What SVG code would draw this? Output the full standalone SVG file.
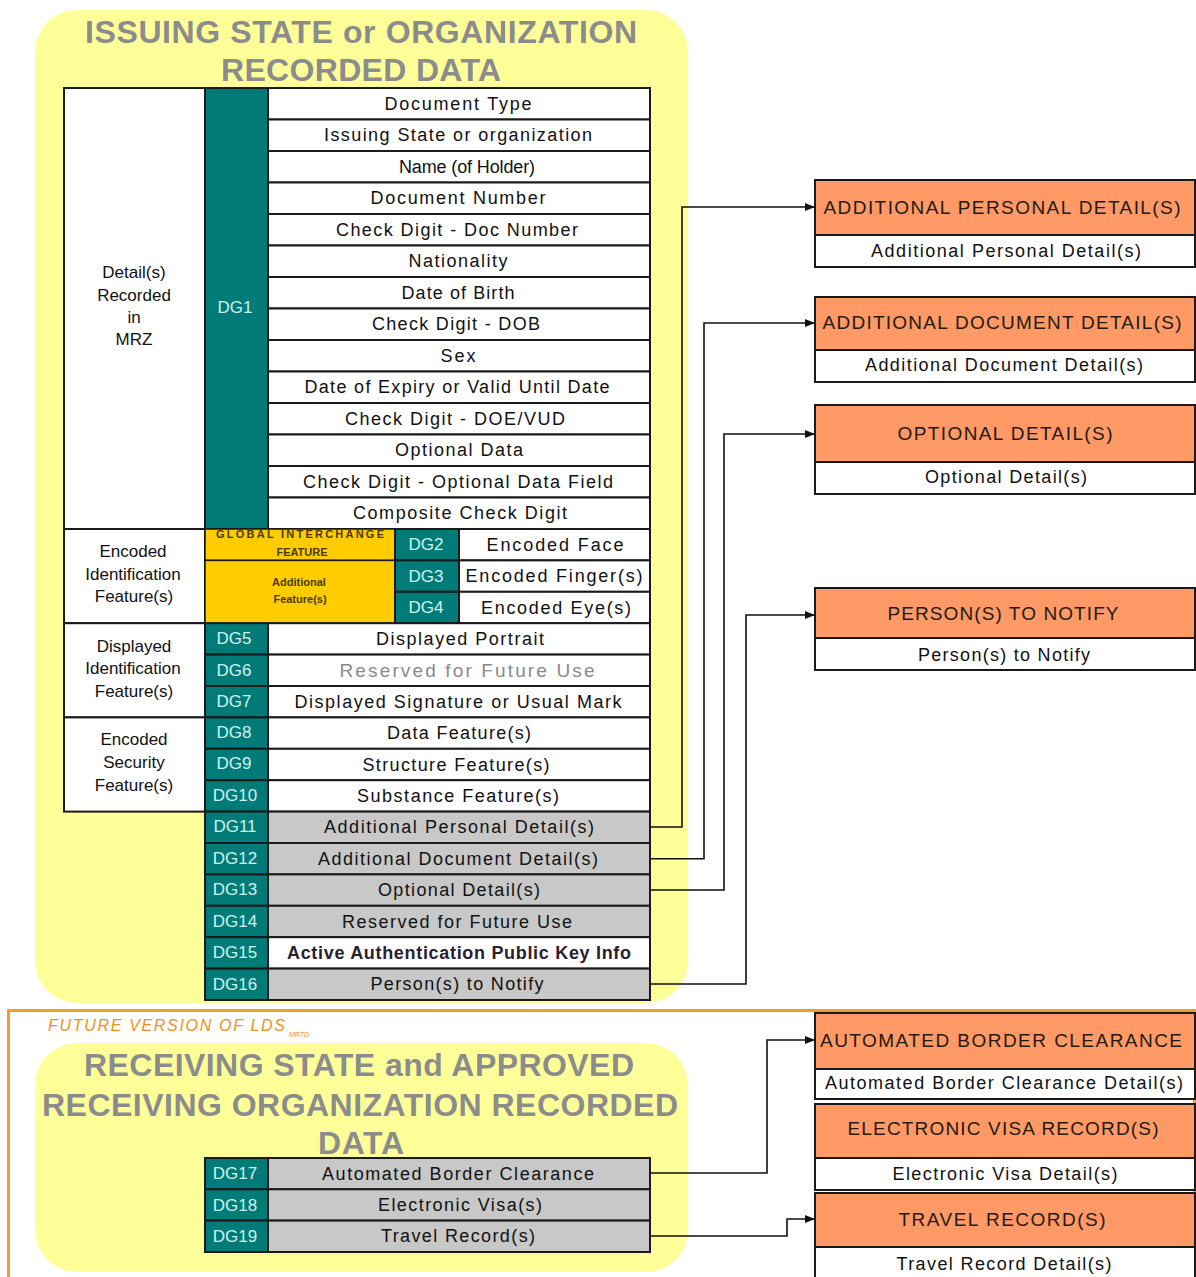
<svg xmlns="http://www.w3.org/2000/svg" width="1196" height="1277" viewBox="0 0 1196 1277">
<style>
text{font-family:"Liberation Sans",Arial,sans-serif}
.bg{fill:#FFFF99}
.w{fill:#fff;stroke:#1a1a1a;stroke-width:2}
.g{fill:#C8C8C8;stroke:#1a1a1a;stroke-width:2}
.tl{fill:#007B78;stroke:#1a1a1a;stroke-width:2}
.gd{fill:#FFCC00;stroke:#1a1a1a;stroke-width:1.5}
.or{fill:#FF9966;stroke:#1a1a1a;stroke-width:2}
.title{font-size:32px;font-weight:bold;fill:#8C8C8C;text-anchor:middle}
.t{font-size:18px;fill:#111;text-anchor:middle}
.lc{font-size:17px;fill:#111;text-anchor:middle}
.dg{font-size:17px;fill:#CFF3F0;text-anchor:middle}
.gf{font-size:11px;font-weight:bold;fill:#4a3a00;text-anchor:middle}
.hd{font-size:19px;fill:#241a14;text-anchor:middle}
.conn{fill:none;stroke:#111;stroke-width:1.6}
</style>
<defs>
<marker id="arr" markerWidth="10" markerHeight="8" refX="10" refY="4" orient="auto" markerUnits="userSpaceOnUse">
<path d="M0,0 L10,4 L0,8 Z" fill="#111"/>
</marker>
</defs>

<!-- backgrounds -->
<g id="issuing-area">
<rect class="bg" x="35" y="10" width="653" height="993" rx="42"/>
<text class="title" x="361" y="43" textLength="552">ISSUING STATE or ORGANIZATION</text>
<text class="title" x="361" y="81" textLength="280">RECORDED DATA</text>
</g>

<g id="future-frame">
<rect x="8.5" y="1010.5" width="1186" height="280" fill="none" stroke="#F0A028" stroke-width="3"/>
<text x="48" y="1031" font-size="16" font-style="italic" fill="#F09020" textLength="237">FUTURE VERSION OF LDS</text>
<text x="289" y="1037" font-size="7" font-style="italic" fill="#F09020">MRTD</text>
</g>

<g id="receiving-area">
<rect class="bg" x="35" y="1043" width="653" height="229" rx="42"/>
<text class="title" x="359" y="1076" textLength="550">RECEIVING STATE and APPROVED</text>
<text class="title" x="360" y="1116" textLength="636">RECEIVING ORGANIZATION RECORDED</text>
<text class="title" x="361" y="1154" textLength="86">DATA</text>
</g>

<!-- left category cells -->
<g id="cat-mrz">
<rect class="w" x="64" y="88" width="141" height="441"/>
<text class="lc" x="134" y="278">Detail(s)</text>
<text class="lc" x="134" y="301">Recorded</text>
<text class="lc" x="134" y="323">in</text>
<text class="lc" x="134" y="345">MRZ</text>
</g>
<g id="cat-encoded-id">
<rect class="w" x="64" y="529" width="141" height="94.2"/>
<text class="lc" x="133" y="557">Encoded</text>
<text class="lc" x="133" y="580">Identification</text>
<text class="lc" x="134" y="602">Feature(s)</text>
</g>
<g id="cat-displayed">
<rect class="w" x="64" y="623.2" width="141" height="94.2"/>
<text class="lc" x="134" y="652">Displayed</text>
<text class="lc" x="133" y="674">Identification</text>
<text class="lc" x="134" y="697">Feature(s)</text>
</g>
<g id="cat-security">
<rect class="w" x="64" y="717.4" width="141" height="94.2"/>
<text class="lc" x="134" y="745">Encoded</text>
<text class="lc" x="134" y="768">Security</text>
<text class="lc" x="134" y="791">Feature(s)</text>
</g>

<!-- DG1 -->
<g id="dg1">
<rect class="tl" x="205" y="88" width="63" height="441"/>
<text class="dg" x="235" y="313">DG1</text>
<rect class="w" x="268" y="88" width="382" height="31.5"/>
<text class="t" x="458" y="109.5" textLength="147">Document Type</text>
<rect class="w" x="268" y="119.5" width="382" height="31.5"/>
<text class="t" x="458" y="141" textLength="268">Issuing State or organization</text>
<rect class="w" x="268" y="151" width="382" height="31.5"/>
<text class="t" x="467" y="172.5" textLength="136">Name (of Holder)</text>
<rect class="w" x="268" y="182.5" width="382" height="31.5"/>
<text class="t" x="458" y="204" textLength="175">Document Number</text>
<rect class="w" x="268" y="214" width="382" height="31.5"/>
<text class="t" x="457" y="235.5" textLength="242">Check Digit - Doc Number</text>
<rect class="w" x="268" y="245.5" width="382" height="31.5"/>
<text class="t" x="458" y="267" textLength="99">Nationality</text>
<rect class="w" x="268" y="277" width="382" height="31.5"/>
<text class="t" x="458" y="298.5" textLength="113">Date of Birth</text>
<rect class="w" x="268" y="308.5" width="382" height="31.5"/>
<text class="t" x="456" y="330" textLength="168">Check Digit - DOB</text>
<rect class="w" x="268" y="340" width="382" height="31.5"/>
<text class="t" x="458" y="361.5" textLength="35">Sex</text>
<rect class="w" x="268" y="371.5" width="382" height="31.5"/>
<text class="t" x="457" y="393" textLength="305">Date of Expiry or Valid Until Date</text>
<rect class="w" x="268" y="403" width="382" height="31.5"/>
<text class="t" x="455" y="424.5" textLength="220">Check Digit - DOE/VUD</text>
<rect class="w" x="268" y="434.5" width="382" height="31.5"/>
<text class="t" x="459" y="456" textLength="128">Optional Data</text>
<rect class="w" x="268" y="466" width="382" height="31.5"/>
<text class="t" x="458" y="487.5" textLength="310">Check Digit - Optional Data Field</text>
<rect class="w" x="268" y="497.5" width="382" height="31.5"/>
<text class="t" x="460" y="519" textLength="214">Composite Check Digit</text>
</g>

<!-- gold global interchange area -->
<g id="global-interchange">
<rect class="gd" x="205" y="529" width="190" height="31.4"/>
<text class="gf" x="300" y="538" textLength="168">GLOBAL INTERCHANGE</text>
<text class="gf" x="302" y="556">FEATURE</text>
<rect class="gd" x="205" y="560.4" width="190" height="62.8"/>
<text class="gf" x="299" y="586">Additional</text>
<text class="gf" x="300" y="603">Feature(s)</text>
</g>

<g id="dg2">
<rect class="tl" x="395" y="529" width="64" height="31.4"/>
<text class="dg" x="426" y="550">DG2</text>
<rect class="w" x="459" y="529" width="191" height="31.4"/>
<text class="t" x="555" y="550.5" textLength="137">Encoded Face</text>
</g>
<g id="dg3">
<rect class="tl" x="395" y="560.4" width="64" height="31.4"/>
<text class="dg" x="426" y="581.5">DG3</text>
<rect class="w" x="459" y="560.4" width="191" height="31.4"/>
<text class="t" x="554" y="582" textLength="177">Encoded Finger(s)</text>
</g>
<g id="dg4">
<rect class="tl" x="395" y="591.8" width="64" height="31.4"/>
<text class="dg" x="426" y="613">DG4</text>
<rect class="w" x="459" y="591.8" width="191" height="31.4"/>
<text class="t" x="556" y="613.5" textLength="150">Encoded Eye(s)</text>
</g>

<g id="dg5">
<rect class="tl" x="205" y="623.2" width="63" height="31.4"/>
<text class="dg" x="234" y="644">DG5</text>
<rect class="w" x="268" y="623.2" width="382" height="31.4"/>
<text class="t" x="460" y="644.9" textLength="168">Displayed Portrait</text>
</g>
<g id="dg6">
<rect class="tl" x="205" y="654.6" width="63" height="31.4"/>
<text class="dg" x="234" y="675.5">DG6</text>
<rect class="w" x="268" y="654.6" width="382" height="31.4"/>
<text class="t" x="467" y="677" font-size="19" fill="#8A8A8A" style="fill:#8A8A8A;font-size:19px" textLength="255">Reserved for Future Use</text>
</g>
<g id="dg7">
<rect class="tl" x="205" y="686" width="63" height="31.4"/>
<text class="dg" x="234" y="707">DG7</text>
<rect class="w" x="268" y="686" width="382" height="31.4"/>
<text class="t" x="458" y="707.7" textLength="327">Displayed Signature or Usual Mark</text>
</g>
<g id="dg8">
<rect class="tl" x="205" y="717.4" width="63" height="31.4"/>
<text class="dg" x="234" y="738">DG8</text>
<rect class="w" x="268" y="717.4" width="382" height="31.4"/>
<text class="t" x="459" y="739.1" textLength="144">Data Feature(s)</text>
</g>
<g id="dg9">
<rect class="tl" x="205" y="748.8" width="63" height="31.4"/>
<text class="dg" x="234" y="769">DG9</text>
<rect class="w" x="268" y="748.8" width="382" height="31.4"/>
<text class="t" x="456" y="770.5" textLength="187">Structure Feature(s)</text>
</g>
<g id="dg10">
<rect class="tl" x="205" y="780.2" width="63" height="31.4"/>
<text class="dg" x="235" y="801">DG10</text>
<rect class="w" x="268" y="780.2" width="382" height="31.4"/>
<text class="t" x="458" y="801.9" textLength="202">Substance Feature(s)</text>
</g>
<g id="dg11">
<rect class="tl" x="205" y="811.6" width="63" height="31.4"/>
<text class="dg" x="235" y="832">DG11</text>
<rect class="g" x="268" y="811.6" width="382" height="31.4"/>
<text class="t" x="459" y="833.3" textLength="270">Additional Personal Detail(s)</text>
</g>
<g id="dg12">
<rect class="tl" x="205" y="843" width="63" height="31.4"/>
<text class="dg" x="235" y="863.5">DG12</text>
<rect class="g" x="268" y="843" width="382" height="31.4"/>
<text class="t" x="458" y="864.7" textLength="280">Additional Document Detail(s)</text>
</g>
<g id="dg13">
<rect class="tl" x="205" y="874.4" width="63" height="31.4"/>
<text class="dg" x="235" y="895">DG13</text>
<rect class="g" x="268" y="874.4" width="382" height="31.4"/>
<text class="t" x="459" y="896.1" textLength="162">Optional Detail(s)</text>
</g>
<g id="dg14">
<rect class="tl" x="205" y="905.8" width="63" height="31.4"/>
<text class="dg" x="235" y="926.5">DG14</text>
<rect class="g" x="268" y="905.8" width="382" height="31.4"/>
<text class="t" x="457" y="927.5" textLength="230">Reserved for Future Use</text>
</g>
<g id="dg15">
<rect class="tl" x="205" y="937.2" width="63" height="31.4"/>
<text class="dg" x="235" y="958">DG15</text>
<rect class="w" x="268" y="937.2" width="382" height="31.4"/>
<text class="t" x="459" y="959" font-weight="bold" style="fill:#2a2030" textLength="344">Active Authentication Public Key Info</text>
</g>
<g id="dg16">
<rect class="tl" x="205" y="968.6" width="63" height="31.4"/>
<text class="dg" x="235" y="989.5">DG16</text>
<rect class="g" x="268" y="968.6" width="382" height="31.4"/>
<text class="t" x="457" y="990.3" textLength="173">Person(s) to Notify</text>
</g>

<g id="dg17">
<rect class="tl" x="205" y="1158" width="63" height="31.3"/>
<text class="dg" x="235" y="1179">DG17</text>
<rect class="g" x="268" y="1158" width="382" height="31.3"/>
<text class="t" x="458" y="1179.6" textLength="272">Automated Border Clearance</text>
</g>
<g id="dg18">
<rect class="tl" x="205" y="1189.3" width="63" height="31.3"/>
<text class="dg" x="235" y="1210.5">DG18</text>
<rect class="g" x="268" y="1189.3" width="382" height="31.3"/>
<text class="t" x="460" y="1211" textLength="164">Electronic Visa(s)</text>
</g>
<g id="dg19">
<rect class="tl" x="205" y="1220.6" width="63" height="31.4"/>
<text class="dg" x="235" y="1242">DG19</text>
<rect class="g" x="268" y="1220.6" width="382" height="31.4"/>
<text class="t" x="458" y="1242.3" textLength="154">Travel Record(s)</text>
</g>

<!-- right boxes -->
<g id="box-personal">
<rect class="or" x="815" y="180" width="380" height="55"/>
<rect class="w" x="815" y="235" width="380" height="32"/>
<text class="hd" x="1002" y="214" textLength="357">ADDITIONAL PERSONAL DETAIL(S)</text>
<text class="t" x="1006" y="257" textLength="270">Additional Personal Detail(s)</text>
</g>
<g id="box-document">
<rect class="or" x="815" y="297" width="380" height="53"/>
<rect class="w" x="815" y="350" width="380" height="32"/>
<text class="hd" x="1002" y="329" textLength="359">ADDITIONAL DOCUMENT DETAIL(S)</text>
<text class="t" x="1004" y="371" textLength="278">Additional Document Detail(s)</text>
</g>
<g id="box-optional">
<rect class="or" x="815" y="405" width="380" height="57"/>
<rect class="w" x="815" y="462" width="380" height="32"/>
<text class="hd" x="1005" y="440" textLength="215">OPTIONAL DETAIL(S)</text>
<text class="t" x="1006" y="483" textLength="162">Optional Detail(s)</text>
</g>
<g id="box-persons">
<rect class="or" x="815" y="588" width="380" height="50"/>
<rect class="w" x="815" y="638" width="380" height="32"/>
<text class="hd" x="1003" y="620" textLength="231">PERSON(S) TO NOTIFY</text>
<text class="t" x="1004" y="661" textLength="172">Person(s) to Notify</text>
</g>
<g id="box-abc">
<rect class="or" x="815" y="1013" width="380" height="56"/>
<rect class="w" x="815" y="1069" width="380" height="30"/>
<text class="hd" x="1001" y="1047" textLength="362">AUTOMATED BORDER CLEARANCE</text>
<text class="t" x="1004" y="1089" textLength="358">Automated Border Clearance Detail(s)</text>
</g>
<g id="box-visa">
<rect class="or" x="815" y="1104" width="380" height="54"/>
<rect class="w" x="815" y="1158" width="380" height="32"/>
<text class="hd" x="1003" y="1135" textLength="311">ELECTRONIC VISA RECORD(S)</text>
<text class="t" x="1005" y="1180" textLength="225">Electronic Visa Detail(s)</text>
</g>
<g id="box-travel">
<rect class="or" x="815" y="1193" width="380" height="54"/>
<rect class="w" x="815" y="1247" width="380" height="40"/>
<text class="hd" x="1002" y="1226" textLength="207">TRAVEL RECORD(S)</text>
<text class="t" x="1004" y="1270" textLength="215">Travel Record Detail(s)</text>
</g>

<!-- connectors -->
<g id="connectors">
<path class="conn" d="M650,827 H682 V207 H815" marker-end="url(#arr)"/>
<path class="conn" d="M650,858.7 H704 V323 H815" marker-end="url(#arr)"/>
<path class="conn" d="M650,890 H724 V434 H815" marker-end="url(#arr)"/>
<path class="conn" d="M650,984 H746 V615 H815" marker-end="url(#arr)"/>
<path class="conn" d="M650,1173 H767 V1040 H815" marker-end="url(#arr)"/>
<path class="conn" d="M650,1236 H787 V1219 H815" marker-end="url(#arr)"/>
</g>
</svg>
